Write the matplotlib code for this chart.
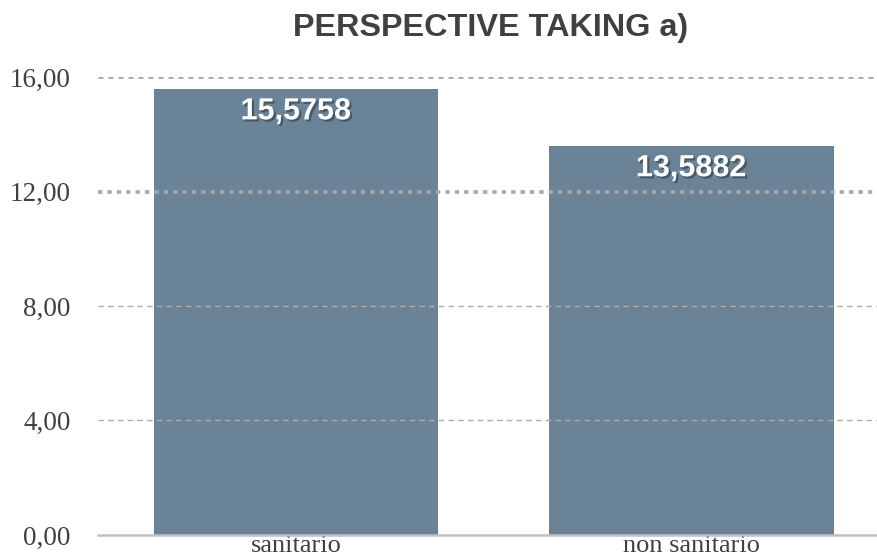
import matplotlib
matplotlib.use("Agg")
import matplotlib.pyplot as plt
import matplotlib.patheffects as pe

categories = ["sanitario", "non sanitario"]
values = [15.5758, 13.5882]
value_labels = ["15,5758", "13,5882"]
yticks = [0, 4, 8, 12, 16]
ytick_labels = ["0,00", "4,00", "8,00", "12,00", "16,00"]
title = "PERSPECTIVE TAKING a)"

fig = plt.figure(figsize=(8.77, 5.56), dpi=100)
ax = fig.add_axes([0.112, 0.0378, 0.888, 0.8237])

x = list(range(len(categories)))
bar_color = "#6b8396"
ax.bar(x, values, width=0.72, color=bar_color, zorder=2)

ax.set_xlim(-0.5, 1.47)
ax.set_ylim(0, 16)

# gridlines (drawn above bars as in the reference)
grid_styles = {
    4: dict(color="#b5aca5", lw=1.0, ls=(0, (4, 3))),
    8: dict(color="#b5aca5", lw=1.0, ls=(0, (4, 3))),
    12: dict(color="#a8a8a8", lw=2.6, ls=(0, (1.2, 1.4))),
    16: dict(color="#a0a0a0", lw=1.8, ls=(0, (2, 2))),
}
for t in yticks[1:]:
    ax.axhline(t, zorder=3, **grid_styles[t])

ax.set_yticks(yticks)
ax.set_yticklabels(ytick_labels, fontfamily="Liberation Serif", fontsize=19.5, color="#404040")
ax.set_xticks(x)
ax.set_xticklabels(categories, fontfamily="Liberation Serif", fontsize=19, color="#404040")
ax.tick_params(axis="y", length=0, pad=20)
ax.tick_params(axis="x", length=0, pad=0)

for s in ["top", "right", "left"]:
    ax.spines[s].set_visible(False)
ax.spines["bottom"].set_color("#c0c0c0")
ax.spines["bottom"].set_linewidth(1.8)
ax.spines["bottom"].set_zorder(4)

for xi, v, lab in zip(x, values, value_labels):
    ax.annotate(lab, (xi, v), xytext=(0, -16), textcoords="offset points",
                ha="center", va="center", fontfamily="Liberation Sans",
                fontweight="bold", fontsize=22, color="white", zorder=5,
                path_effects=[pe.withSimplePatchShadow(offset=(1.5, -1.5), shadow_rgbFace="#2a3a48", alpha=0.6)])

fig.text(0.559, 0.95, title, ha="center", va="center", fontfamily="Liberation Sans",
         fontweight="bold", fontsize=23.3, color="#404040")

fig.savefig("out.png", dpi=100)
